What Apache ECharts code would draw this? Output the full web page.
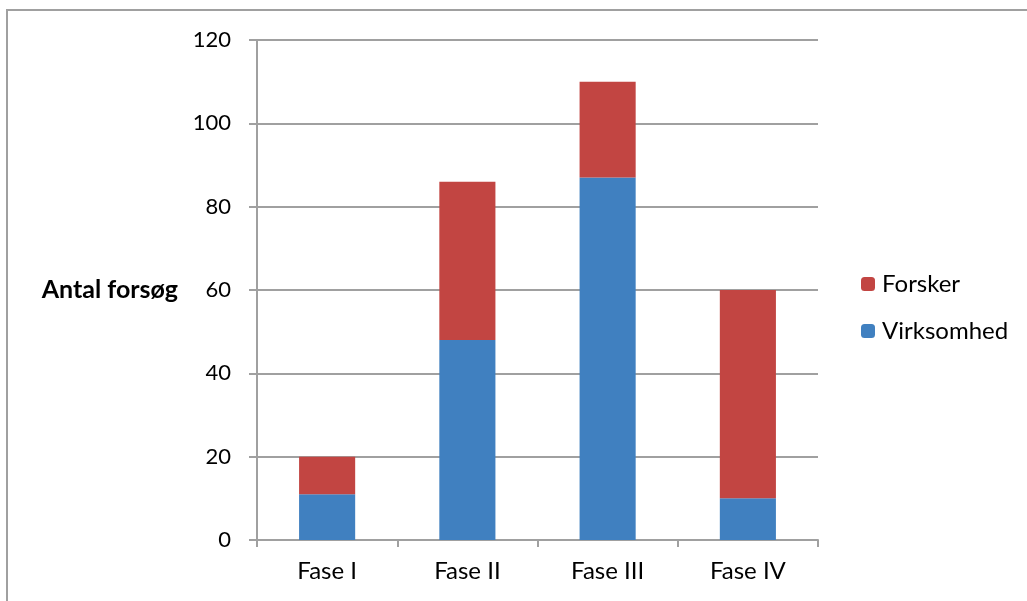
<!DOCTYPE html>
<html>
<head>
<meta charset="utf-8">
<script src="https://cdn.jsdelivr.net/npm/echarts@6/dist/echarts.min.js"></script>
<style>
  html, body { margin: 0; padding: 0; background: #fff; }
  #frame { position: absolute; left: 6px; top: 9px; width: 1030px; height: 600px;
           border-top: 2px solid #a0a0a0; border-left: 2px solid #a0a0a0; }
  #chart { position: absolute; left: 0; top: 0; width: 1027px; height: 601px; }
</style>
</head>
<body>
<div id="frame"></div>
<div id="chart"></div>
<script>
// Trials per phase, split by sponsor type
const categories = ['Fase I', 'Fase II', 'Fase III', 'Fase IV'];
const virksomhed = [11, 48, 87, 10];
const forsker = [9, 38, 23, 50];
const yTicks = [0, 20, 40, 60, 80, 100, 120];

const FONT = 'Lato, "Open Sans", sans-serif';
const chart = echarts.init(document.getElementById('chart'), null, { renderer: 'canvas' });
chart.setOption({
  animation: false,
  grid: { left: 257, right: 209, top: 40, bottom: 61, containLabel: false },
  xAxis: {
    type: 'category',
    data: categories,
    axisLine: { lineStyle: { color: '#a0a0a0', width: 2 } },
    axisTick: { show: true, length: 7, lineStyle: { color: '#a0a0a0', width: 2 } },
    axisLabel: { color: '#000', fontSize: 24, fontFamily: FONT, margin: 19 }
  },
  yAxis: {
    type: 'value',
    min: yTicks[0],
    max: yTicks[yTicks.length - 1],
    interval: 20,
    name: 'Antal forsøg',
    nameLocation: 'middle',
    nameRotate: 0,
    nameGap: 79,
    nameTextStyle: { color: '#000', fontSize: 25, fontWeight: 'bold', fontFamily: FONT },
    axisLine: { show: true, lineStyle: { color: '#a0a0a0', width: 2 } },
    axisTick: { show: true, length: 8, lineStyle: { color: '#a0a0a0', width: 2 } },
    axisLabel: { color: '#000', fontSize: 22, fontFamily: FONT, margin: 26 },
    splitLine: { lineStyle: { color: '#a0a0a0', width: 2 } }
  },
  legend: {
    orient: 'vertical',
    left: 861,
    top: 272,
    padding: 0,
    itemWidth: 14,
    itemHeight: 14,
    itemGap: 23,
    data: ['Forsker', 'Virksomhed'],
    textStyle: { color: '#000', fontSize: 24, fontFamily: FONT, padding: [0, 0, 0, 2] }
  },
  series: [
    {
      name: 'Virksomhed',
      type: 'bar',
      stack: 'total',
      data: virksomhed,
      barWidth: '40%',
      itemStyle: { color: '#4080c0' }
    },
    {
      name: 'Forsker',
      type: 'bar',
      stack: 'total',
      data: forsker,
      barWidth: '40%',
      itemStyle: { color: '#c24542' }
    }
  ]
});
</script>
</body>
</html>
